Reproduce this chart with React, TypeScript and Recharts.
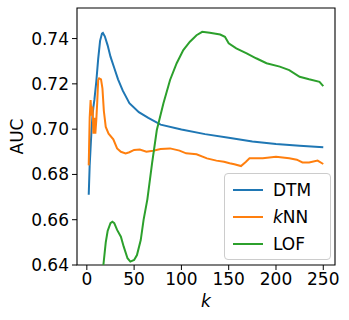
import { LineChart, Line, XAxis, YAxis, ReferenceArea, Legend } from "recharts";

const FONT = "DejaVu Sans";

// k values and AUC
const dtmK = [2, 3, 4, 5, 6, 7, 8, 10, 12, 14, 16, 17, 19, 22, 25, 29, 33, 38, 45, 55, 65, 78, 100, 125, 150, 175, 200, 225, 250];
const dtmAuc = [0.671, 0.684, 0.692, 0.700, 0.706, 0.710, 0.713, 0.721, 0.731, 0.739, 0.7422, 0.7425, 0.741, 0.737, 0.732, 0.727, 0.722, 0.717, 0.7115, 0.7075, 0.705, 0.702, 0.6998, 0.6978, 0.6962, 0.6945, 0.6934, 0.6927, 0.692];

const knnK = [2, 3, 4, 5, 6, 7, 8, 9, 10, 11, 12, 13, 15, 16.5, 18, 20, 23, 28, 32, 36, 41, 45, 50, 56, 63, 70, 78, 88, 98, 105, 116, 127, 137, 145, 151, 156, 163, 168, 172, 186, 200, 214, 222, 228, 235, 244, 250];
const knnAuc = [0.684, 0.705, 0.7128, 0.706, 0.710, 0.698, 0.705, 0.698, 0.704, 0.712, 0.7217, 0.7224, 0.722, 0.718, 0.708, 0.701, 0.698, 0.6955, 0.6915, 0.690, 0.6893, 0.6898, 0.6908, 0.691, 0.690, 0.6905, 0.6912, 0.6915, 0.6905, 0.6893, 0.6889, 0.6871, 0.6861, 0.6856, 0.6849, 0.6845, 0.6837, 0.6855, 0.6871, 0.6871, 0.6878, 0.6871, 0.6865, 0.6853, 0.6853, 0.6861, 0.6846];

const lofK = [16, 17.5, 20, 22, 25, 27, 29, 32, 36, 39, 43, 46, 50, 53, 57, 60, 64, 69, 74, 81, 88, 95, 102, 109, 116, 122, 130, 141, 146, 150, 158, 169, 179, 190, 204, 214, 225, 235, 246, 250];
const lofAuc = [0.634, 0.640, 0.650, 0.655, 0.6585, 0.6591, 0.6585, 0.6555, 0.6525, 0.6481, 0.643, 0.6415, 0.6422, 0.6444, 0.651, 0.6599, 0.669, 0.685, 0.6996, 0.7114, 0.7217, 0.7291, 0.7349, 0.7386, 0.7415, 0.743, 0.7426, 0.7418, 0.7408, 0.7379, 0.7357, 0.7335, 0.7313, 0.7291, 0.7276, 0.7261, 0.7231, 0.722, 0.7209, 0.719];

const xTicks = [0, 50, 100, 150, 200, 250];
const yTicks = [0.64, 0.66, 0.68, 0.7, 0.72, 0.74];

const X_DOMAIN: [number, number] = [-10.4, 262.4];
const Y_DOMAIN: [number, number] = [0.64, 0.7535];

const toPoints = (ks: number[], vs: number[]) => ks.map((k, i) => ({ k, auc: vs[i] }));

const series = [
  { name: "DTM", color: "#1f77b4", data: toPoints(dtmK, dtmAuc) },
  { name: "kNN", color: "#ff7f0e", data: toPoints(knnK, knnAuc) },
  { name: "LOF", color: "#2ca02c", data: toPoints(lofK, lofAuc) },
];

const tickStyle = { fill: "#000", fontSize: 17, fontFamily: FONT };

const LegendBox = () => (
  <div
    style={{
      border: "1px solid #cccccc",
      borderRadius: 4,
      background: "rgba(255,255,255,0.8)",
      padding: "2px 0",
      boxSizing: "border-box",
      width: 107,
      height: 87,
      fontFamily: FONT,
      fontSize: 17,
      color: "#000",
    }}
  >
    {series.map((s) => (
      <div key={s.name} style={{ display: "flex", alignItems: "center", height: 27 }}>
        <svg width={30} height={4} style={{ marginLeft: 8 }}>
          <line x1={0} y1={2} x2={30} y2={2} stroke={s.color} strokeWidth={2} />
        </svg>
        <span style={{ marginLeft: 10 }}>
          {s.name === "kNN" ? (
            <>
              <i>k</i>NN
            </>
          ) : (
            s.name
          )}
        </span>
      </div>
    ))}
  </div>
);

export default function App() {
  return (
    <div style={{ position: "absolute", left: 0, top: 0, width: 349, height: 320, background: "#fff" }}>
      <LineChart width={349} height={320} margin={{ top: 8, right: 14, bottom: 0, left: 0 }}>
        <XAxis
          type="number"
          dataKey="k"
          domain={X_DOMAIN}
          ticks={xTicks}
          allowDataOverflow
          height={55}
          tick={tickStyle}
          tickSize={5}
          tickMargin={3}
          tickLine={{ stroke: "#000" }}
          axisLine={false}
          label={{ value: "k", position: "center", dy: 8, fill: "#000", fontSize: 17, fontFamily: FONT, fontStyle: "italic" }}
        />
        <YAxis
          type="number"
          dataKey="auc"
          domain={Y_DOMAIN}
          ticks={yTicks}
          allowDataOverflow
          width={77}
          tick={tickStyle}
          tickSize={5}
          tickMargin={3}
          tickLine={{ stroke: "#000" }}
          axisLine={false}
          tickFormatter={(v: number) => v.toFixed(2)}
          label={{ value: "AUC", angle: -90, position: "center", dx: -22, fill: "#000", fontSize: 17, fontFamily: FONT }}
        />
        {series.map((s) => (
          <Line
            key={s.name}
            data={s.data}
            dataKey="auc"
            name={s.name}
            type="linear"
            stroke={s.color}
            strokeWidth={2}
            dot={false}
            activeDot={false}
            isAnimationActive={false}
          />
        ))}
        <ReferenceArea
          x1={X_DOMAIN[0]}
          x2={X_DOMAIN[1]}
          y1={Y_DOMAIN[0]}
          y2={Y_DOMAIN[1]}
          fill="none"
          stroke="#000"
          strokeWidth={1.1}
          fillOpacity={0}
          ifOverflow="visible"
        />
        <Legend
          layout="vertical"
          align="center"
          verticalAlign="middle"
          content={() => <LegendBox />}
          wrapperStyle={{ position: "absolute", left: 224, top: 173, width: 107, height: 87 }}
        />
      </LineChart>
    </div>
  );
}
